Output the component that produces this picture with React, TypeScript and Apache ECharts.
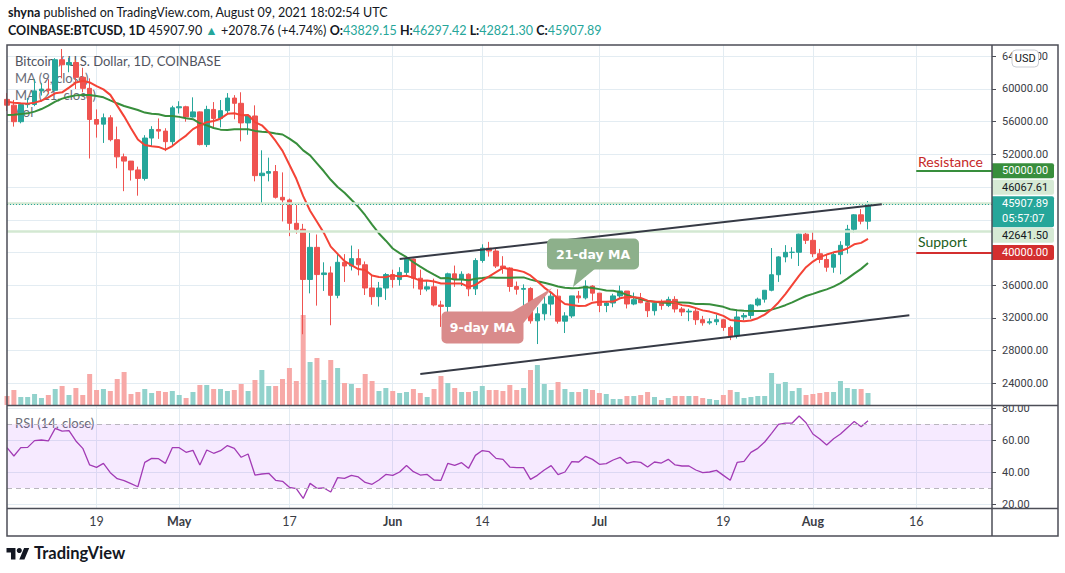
import React, { useEffect, useRef } from "react";
import * as echarts from "echarts";

const UP = "#26a69a";
const DOWN = "#ef5350";
const UP_VOL = "#92d2cc";
const DOWN_VOL = "#f7a9a7";
const GRID = "#e3ecf2";
const FRAME = "#4c4e57";
const FONT = "Lato, 'Open Sans', sans-serif";
const AXIS_FONT = "Roboto, 'Open Sans', sans-serif";

const START = { y: 2021, m: 3, d: 6 };
const DAY_COUNT = 144; // 2021-04-06 .. 2021-08-27

const tickLabels: Record<string, string> = {
  "2021-04-19": "19",
  "2021-05-01": "May",
  "2021-05-17": "17",
  "2021-06-01": "Jun",
  "2021-06-14": "14",
  "2021-07-01": "Jul",
  "2021-07-19": "19",
  "2021-08-01": "Aug",
  "2021-08-16": "16",
};
const monthLabels = ["May", "Jun", "Jul", "Aug"];
const priceTicks = [24000, 28000, 32000, 36000, 40000, 44000, 48000, 52000, 56000, 60000, 64000];
// 40000, 44000 and 48000 sit under the coloured price tags, 64000 under the USD badge
const priceLabelTicks = [24000, 28000, 32000, 36000, 52000, 56000, 60000];
const topPriceLabel = { value: 64000, head: "64", tail: "00" };
const rsiTicks = [20, 40, 60, 80];

// [open, close, low, high]
const candles: number[][] = [
  [58730, 58020, 57300, 59500], // Apr 6
  [58020, 56000, 55400, 58660],
  [56000, 58090, 55800, 58150],
  [58090, 58100, 57700, 58900],
  [58100, 59770, 57900, 61200], // Apr 10
  [59770, 59990, 59200, 60700],
  [59990, 59840, 59400, 61200],
  [59840, 63580, 59840, 63770],
  [63580, 62960, 61300, 64895],
  [62960, 63240, 62050, 63800], // Apr 15
  [63240, 61430, 60000, 63570],
  [61430, 60080, 59600, 62600],
  [60080, 56270, 51500, 61300],
  [56270, 55700, 54050, 57500],
  [55700, 56480, 53400, 57000], // Apr 20
  [56480, 53800, 53600, 56800],
  [53800, 51700, 50300, 55400],
  [51700, 51180, 47500, 52100],
  [51180, 50100, 48800, 51200],
  [50100, 49060, 46950, 50500], // Apr 25
  [49060, 54000, 48800, 54350],
  [54000, 55050, 53000, 55450],
  [55050, 54850, 53900, 56400],
  [54850, 53560, 52400, 55200],
  [53560, 57700, 53100, 57950], // Apr 30
  [57700, 57830, 57000, 58500], // May 1
  [57830, 56580, 56000, 57950],
  [56580, 57200, 56500, 58980],
  [57200, 53200, 53100, 57250],
  [53200, 57500, 52900, 57950], // May 5
  [57500, 56400, 55300, 58400],
  [56400, 57350, 55300, 58650],
  [57350, 58890, 56900, 59500],
  [58890, 58250, 56300, 59250],
  [58250, 55850, 53600, 59600], // May 10
  [55850, 56700, 54400, 56900],
  [56700, 49400, 48700, 58000],
  [49400, 49700, 46000, 52500],
  [49700, 49900, 48700, 51600],
  [49900, 46750, 46600, 50700], // May 15
  [46750, 46430, 43800, 49800],
  [46430, 43570, 42000, 46600],
  [43570, 42840, 42300, 45800],
  [42840, 36700, 30000, 43500],
  [36700, 40630, 35000, 42400], // May 20
  [40630, 37300, 33500, 42200],
  [37300, 37500, 35300, 38800],
  [37500, 34760, 31100, 38300],
  [34760, 38800, 34400, 39900],
  [38800, 38350, 36400, 39800], // May 25
  [38350, 39250, 37800, 40850],
  [39250, 38500, 37200, 40400],
  [38500, 35660, 34800, 38900],
  [35660, 34600, 33600, 37300],
  [34600, 35650, 33400, 36400], // May 30
  [35650, 37300, 34200, 37500],
  [37300, 36690, 35700, 37900], // Jun 1
  [36690, 37570, 35950, 38200],
  [37570, 39190, 37200, 39480],
  [39190, 36850, 35600, 39250],
  [36850, 35520, 34800, 37900], // Jun 5
  [35520, 35800, 35250, 36500],
  [35800, 33580, 33400, 36800],
  [33580, 33400, 30900, 34100],
  [33400, 37390, 32400, 37530],
  [37390, 36690, 35800, 38400], // Jun 10
  [36690, 37340, 35900, 37700],
  [37340, 35550, 34650, 37450],
  [35550, 39020, 34800, 39300],
  [39020, 40530, 38750, 41000],
  [40530, 40180, 39500, 41300], // Jun 15
  [40180, 38340, 38100, 40500],
  [38340, 38100, 37400, 39550],
  [38100, 35840, 35200, 38200],
  [35840, 35500, 34850, 36450],
  [35500, 35600, 33400, 36100], // Jun 20
  [35600, 31640, 31300, 35750],
  [31640, 32500, 28800, 33300],
  [32500, 33690, 31700, 34800],
  [33690, 34660, 32300, 35200],
  [34660, 31600, 31300, 35500], // Jun 25
  [31600, 32240, 30150, 32700],
  [32240, 34690, 32000, 34700],
  [34690, 34450, 33850, 35300],
  [34450, 35890, 34250, 36600],
  [35890, 35030, 34100, 36000], // Jun 30
  [35030, 33520, 32700, 35050], // Jul 1
  [33520, 33820, 32700, 33940],
  [33820, 34690, 33300, 34950],
  [34690, 35290, 34380, 35950],
  [35290, 33700, 33150, 35290], // Jul 5
  [33700, 34230, 33550, 35100],
  [34230, 33860, 33790, 35050],
  [33860, 32880, 32100, 33920],
  [32880, 33800, 32300, 34080],
  [33800, 33510, 33000, 34250], // Jul 10
  [33510, 34260, 33320, 34600],
  [34260, 33090, 32660, 34650],
  [33090, 32730, 32230, 33330],
  [32730, 32820, 31600, 33120],
  [32820, 31780, 31150, 33180], // Jul 15
  [31780, 31400, 31050, 32250],
  [31400, 31530, 31180, 31950],
  [31530, 31780, 31120, 32400],
  [31780, 30830, 30420, 31890],
  [30830, 29800, 29280, 31050], // Jul 20
  [29800, 32110, 29480, 32850],
  [32110, 32300, 31720, 32600],
  [32300, 33580, 31900, 33650],
  [33580, 34290, 33410, 34480],
  [34290, 35380, 33870, 35400], // Jul 25
  [35380, 37280, 35250, 40550],
  [37280, 39460, 36400, 39550],
  [39460, 40020, 38800, 40900],
  [40020, 40030, 39240, 40650],
  [40030, 42240, 38350, 42300], // Jul 30
  [42240, 41490, 41040, 42420],
  [41490, 39850, 39430, 42600], // Aug 1
  [39850, 39150, 38700, 40440],
  [39150, 38200, 37650, 39780],
  [38200, 39740, 37520, 39950],
  [39740, 40880, 37330, 41380], // Aug 5
  [40880, 42840, 39870, 43380],
  [42840, 44610, 42450, 44700],
  [44610, 43830, 43450, 45300],
  [43829.15, 45907.89, 42821.3, 46297.42], // Aug 9
];

const volumes = [
  9000, 15000, 8000, 8000, 11000, 7000, 10000, 16000, 19000, 10000,
  17000, 10000, 31000, 15000, 16000, 14000, 26000, 33000, 11000, 13000,
  16000, 12000, 14000, 13000, 14000, 10000, 7000, 13000, 20000, 20000,
  16000, 16000, 14000, 15000, 21000, 14000, 25000, 35000, 19000, 19000,
  26000, 37000, 24000, 90000, 43000, 47000, 25000, 45000, 37000, 22000,
  21000, 17000, 31000, 24000, 14000, 17000, 14000, 12000, 13000, 16000,
  12000, 8000, 16000, 29000, 22000, 17000, 13000, 13000, 14000, 19000,
  15000, 15000, 14000, 20000, 15000, 17000, 35000, 40000, 21000, 15000,
  23000, 16000, 13000, 13000, 16000, 15000, 12000, 11000, 6000, 6000,
  9000, 9000, 10000, 13000, 8000, 5000, 7000, 9000, 9000, 9000,
  9000, 7000, 6000, 5000, 10000, 15000, 13000, 7000, 8000, 9000,
  9000, 32000, 21000, 23000, 14000, 17000, 10000, 11000, 12000, 13000,
  13000, 24000, 17000, 16000, 16000, 12000,
];

const rsi = [
  55.2, 50, 55.2, 55.4, 59.6, 60, 59.4, 67.3, 65.6, 65.8,
  59.4, 54.8, 44.4, 42.9, 45.4, 39.6, 35.8, 34.6, 32.7, 30.8,
  46, 48.5, 48.3, 45.4, 55.2, 55.2, 52.3, 53.5, 44.4, 53.75,
  51.7, 53.3, 56.5, 54.8, 49.2, 51.25, 38.1, 38.75, 39.2, 34.8,
  34.2, 30.4, 29.6, 23.5, 32.9, 29.8, 30, 27.5, 36.5, 36,
  37.9, 36.9, 33.5, 32.3, 35, 38.5, 37.9, 40, 44, 40.2,
  38.1, 38.5, 35, 34.8, 45.4, 44.2, 45.8, 42.3, 50.4, 53.4,
  52.7, 48.5, 47.9, 43.1, 42.7, 42.7, 35.4, 37.9, 41.25, 44,
  38.3, 40, 46.5, 46.25, 49.8, 47.9, 44.8, 45.2, 47.5, 49.2,
  45.4, 46.5, 46, 43.1, 46.25, 45.6, 47.9, 44.4, 43.75, 43.75,
  41.25, 39.6, 40, 41, 37.9, 34.8, 46, 46.7, 52.3, 54.8,
  58.75, 64.2, 69.8, 70.6, 70.6, 75, 70.8, 63.75, 60.6, 56.9,
  60.8, 63.75, 67.7, 71.5, 68.3, 72.1,
];

const ma9Head = [58450, 58330, 58250, 58210, 58330, 58570, 58980, 59470];
const ma21Head = [
  56820, 56860, 56940, 57020, 57230, 57550, 57960, 58450, 58820, 59060,
  59220, 59270, 59270, 59150, 58980, 58600, 58250, 57920, 57680, 57430,
];

const channelUpper = { from: 57, to: 127, p1: 39209, p2: 45911 };
const channelLower = { from: 60, to: 131, p1: 25145, p2: 32324 };
const hLines = { upperGreen: 46067.61, lowerGreen: 42641.5, last: 45907.89 };
const resistance = { level: 50000, from: 132, to: 143 };
const support = { level: 40000, from: 132, to: 143 };

function buildDates(): string[] {
  const out: string[] = [];
  for (let i = 0; i < DAY_COUNT; i++) {
    const d = new Date(Date.UTC(START.y, START.m, START.d + i));
    out.push(d.toISOString().slice(0, 10));
  }
  return out;
}

function movingAvg(closes: number[], n: number, head: number[]): number[] {
  return closes.map((_, i) => {
    if (i < n - 1) return head[i];
    let s = 0;
    for (let k = i - n + 1; k <= i; k++) s += closes[k];
    return Math.round(s / n);
  });
}

const TV_LOGO = "M14 22H7V11H0V4h14v18zM28 22h-8l7.5-18h8L28 22z";

export default function App() {
  const ref = useRef<HTMLDivElement>(null);

  useEffect(() => {
    document.body.style.margin = "0";
    try {
      echarts.graphic.registerShape("tvlogo", echarts.graphic.extendPath(TV_LOGO, {}) as any);
    } catch (e) {
      /* already registered */
    }
    const chart = echarts.init(ref.current!, null, { renderer: "svg" });
    const dates = buildDates();
    const closes = candles.map((c) => c[1]);
    const ma9 = movingAvg(closes, 9, ma9Head);
    const ma21 = movingAvg(closes, 21, ma21Head);
    const isTick = (_i: number, v: string) => tickLabels[v] !== undefined;

    const xBase = {
      type: "category" as const,
      data: dates,
      boundaryGap: false,
      axisLine: { show: false },
      axisTick: { show: false },
      splitLine: { show: true, interval: isTick, lineStyle: { color: GRID, width: 1 } },
    };

    const option: any = {
      animation: false,
      backgroundColor: "#ffffff",
      textStyle: { fontFamily: FONT },
      grid: [
        { left: 7, right: 73, top: 45, height: 360 },
        { left: 7, right: 73, top: 406, height: 102 },
      ],
      xAxis: [
        { ...xBase, gridIndex: 0, axisLabel: { show: false } },
        {
          ...xBase,
          gridIndex: 1,
          axisLabel: {
            show: true,
            interval: isTick,
            margin: 7,
            color: "#3a3d45",
            fontSize: 12.5,
            fontFamily: FONT,
            formatter: (v: string) => {
              const t = tickLabels[v] || "";
              return monthLabels.indexOf(t) >= 0 ? `{m|${t}}` : t;
            },
            rich: { m: { fontWeight: "bold", fontSize: 12.5, fontFamily: FONT, color: "#3a3d45" } },
          },
        },
      ],
      yAxis: [
        {
          type: "value",
          gridIndex: 0,
          position: "right",
          min: 21345,
          max: 65382,
          axisLine: { show: false },
          axisTick: { show: true, length: 4, lineStyle: { color: FRAME }, customValues: priceTicks },
          axisLabel: {
            customValues: priceLabelTicks,
            formatter: (v: number) => v.toFixed(2),
            color: "#3a3d45",
            fontSize: 11,
            fontFamily: AXIS_FONT,
            margin: 10,
          },
          splitLine: { show: true, lineStyle: { color: GRID } },
        },
        { type: "value", gridIndex: 0, min: 0, max: 360000, show: false, splitLine: { show: false } },
        {
          type: "value",
          gridIndex: 1,
          position: "right",
          min: 17.5,
          max: 81.25,
          axisLine: { show: false },
          axisTick: { show: true, length: 4, lineStyle: { color: FRAME }, customValues: rsiTicks },
          axisLabel: {
            customValues: rsiTicks,
            formatter: (v: number) => v.toFixed(2),
            color: "#3a3d45",
            fontSize: 11,
            fontFamily: AXIS_FONT,
            margin: 10,
          },
          splitLine: { show: true, lineStyle: { color: GRID } },
        },
      ],
      series: [
        {
          type: "bar",
          name: "Vol",
          xAxisIndex: 0,
          yAxisIndex: 1,
          barWidth: 5,
          z: 1,
          silent: true,
          data: volumes.map((v, i) => ({
            value: v,
            itemStyle: { color: candles[i][1] >= candles[i][0] ? UP_VOL : DOWN_VOL },
          })),
        },
        {
          type: "candlestick",
          name: "BTCUSD",
          xAxisIndex: 0,
          yAxisIndex: 0,
          barWidth: 5,
          z: 3,
          silent: true,
          data: candles,
          itemStyle: { color: UP, color0: DOWN, borderColor: UP, borderColor0: DOWN, borderWidth: 1 },
          markLine: {
            silent: true,
            symbol: ["none", "none"],
            label: { show: false },
            animation: false,
            data: [
              { yAxis: hLines.upperGreen, lineStyle: { color: "#d3e8d2", width: 2.5, type: "solid" } },
              { yAxis: hLines.lowerGreen, lineStyle: { color: "#d3e8d2", width: 2.5, type: "solid" } },
              { yAxis: hLines.last, lineStyle: { color: UP, width: 1, type: [1, 2] } },
              [
                { coord: [dates[channelUpper.from], channelUpper.p1], lineStyle: { color: "#363a45", width: 2, type: "solid" } },
                { coord: [dates[channelUpper.to], channelUpper.p2] },
              ],
              [
                { coord: [dates[channelLower.from], channelLower.p1], lineStyle: { color: "#363a45", width: 2, type: "solid" } },
                { coord: [dates[channelLower.to], channelLower.p2] },
              ],
              [
                { coord: [dates[resistance.from], resistance.level], lineStyle: { color: "#388e3c", width: 2, type: "solid" } },
                { coord: [dates[resistance.to], resistance.level] },
              ],
              [
                { coord: [dates[support.from], support.level], lineStyle: { color: "#d32f2f", width: 2, type: "solid" } },
                { coord: [dates[support.to], support.level] },
              ],
            ],
          },
        },
        {
          type: "line",
          name: "MA 21",
          xAxisIndex: 0,
          yAxisIndex: 0,
          data: ma21,
          showSymbol: false,
          silent: true,
          z: 4,
          lineStyle: { color: "#388e3c", width: 2 },
        },
        {
          type: "line",
          name: "MA 9",
          xAxisIndex: 0,
          yAxisIndex: 0,
          data: ma9,
          showSymbol: false,
          silent: true,
          z: 4,
          lineStyle: { color: "#f44336", width: 2 },
        },
        {
          type: "line",
          name: "RSI",
          xAxisIndex: 1,
          yAxisIndex: 2,
          data: rsi,
          showSymbol: false,
          silent: true,
          z: 4,
          lineStyle: { color: "#a23bb5", width: 1.3 },
          markArea: {
            silent: true,
            itemStyle: { color: "rgba(153,21,255,0.09)" },
            data: [[{ yAxis: 30 }, { yAxis: 70 }]],
          },
          markLine: {
            silent: true,
            symbol: ["none", "none"],
            label: { show: false },
            lineStyle: { color: "#b9b6be", width: 1, type: [5, 4] },
            data: [{ yAxis: 70 }, { yAxis: 30 }],
          },
        },
      ],
    };

    chart.setOption(option);

    const py = (v: number) => chart.convertToPixel({ yAxisIndex: 0 }, v) as number;
    const yRes = py(resistance.level);
    const ySup = py(support.level);
    const yLast = py(hLines.last);
    const yTop = py(topPriceLabel.value);

    const txt = (x: number, y: number, text: string, font: string, fill: string, z = 1, extra: any = {}) => ({
      type: "text",
      x,
      y,
      z,
      silent: true,
      style: { text, font, fill, textVerticalAlign: "middle", ...extra },
    });
    const tag = (cy: number, text: string, bg: string, fg: string) => [
      { type: "rect", z: 55, silent: true, shape: { x: 992, y: cy - 7.5, width: 62, height: 15, r: [0, 2, 2, 0] }, style: { fill: bg } },
      txt(1002, cy, text, `11px ${AXIS_FONT}`, fg, 56),
    ];
    const HEAD = `12.5px ${FONT}`;
    const HEAD_B = `bold 12.5px ${FONT}`;

    const graphic: any[] = [
      // header
      txt(8, 12, "{b|shyna} published on TradingView.com, August 09, 2021 18:02:54 UTC", HEAD, "#131722", 1, {
        rich: { b: { font: HEAD_B, fill: "#131722" } },
      }),
      txt(
        8,
        30,
        "{b|COINBASE:BTCUSD, 1D} 45907.90 {g|▲} +2078.76 (+4.74%) {b|O:}{g|43829.15} {b|H:}{g|46297.42} {b|L:}{g|42821.30} {b|C:}{g|45907.89}",
        HEAD,
        "#131722",
        1,
        {
          rich: {
            b: { font: HEAD_B, fill: "#131722" },
            g: { font: HEAD, fill: UP },
          },
        }
      ),
      // pane legends (under the series)
      txt(15, 61, "Bitcoin / U.S. Dollar, 1D, COINBASE", `13px ${FONT}`, "#50535e", 0),
      txt(15, 78, "MA (9, close)", `13px ${FONT}`, "#6a6d78", 0),
      txt(15, 95, "MA (21, close)", `13px ${FONT}`, "#6a6d78", 0),
      txt(15, 112, "Vol", `13px ${FONT}`, "#6a6d78", 0),
      txt(15, 423, "RSI (14, close)", `13px ${FONT}`, "#6a6d78", 0),
      // resistance / support captions
      txt(918, yRes - 9, "Resistance", `14px ${FONT}`, "#c62828", 20),
      txt(918, ySup - 11, "Support", `14px ${FONT}`, "#1b5e20", 20),
      // callouts
      { type: "rect", z: 30, silent: true, shape: { x: 547, y: 238.5, width: 92, height: 31, r: 5 }, style: { fill: "#8db08b" } },
      { type: "polygon", z: 30, silent: true, shape: { points: [[577, 268], [596, 268], [573, 287]] }, style: { fill: "#8db08b" } },
      txt(593, 254, "21-day MA", `bold 12.5px 'DejaVu Sans', sans-serif`, "#ffffff", 31, { textAlign: "center" }),
      { type: "rect", z: 30, silent: true, shape: { x: 441.5, y: 311.5, width: 82, height: 32, r: 5 }, style: { fill: "#d98b8b" } },
      { type: "polygon", z: 30, silent: true, shape: { points: [[510, 313], [523.5, 323], [552, 288]] }, style: { fill: "#d98b8b" } },
      txt(482.5, 327.5, "9-day MA", `bold 12.5px 'DejaVu Sans', sans-serif`, "#ffffff", 31, { textAlign: "center" }),
      // masks for clipped axis labels
      { type: "rect", z: 40, silent: true, shape: { x: 993, y: 395.5, width: 64, height: 10 }, style: { fill: "#ffffff" } },
      { type: "rect", z: 40, silent: true, shape: { x: 993, y: 509, width: 64, height: 10 }, style: { fill: "#ffffff" } },
      // top price label, partly hidden by the USD badge
      txt(1002, yTop, topPriceLabel.head, `11px ${AXIS_FONT}`, "#3a3d45", 45),
      txt(1048, yTop, topPriceLabel.tail, `11px ${AXIS_FONT}`, "#3a3d45", 45, { textAlign: "right" }),
      // price tags
      ...tag(yRes, "50000.00", "#388e3c", "#ffffff"),
      ...tag(yLast - 17, "46067.61", "#d6ead5", "#131722"),
      { type: "rect", z: 55, silent: true, shape: { x: 992, y: yLast - 8, width: 62, height: 31, r: [0, 2, 2, 0] }, style: { fill: UP } },
      txt(1002, yLast - 8, "45907.89\n05:57:07", `11px ${AXIS_FONT}`, "#ffffff", 56, {
        textVerticalAlign: "top",
        lineHeight: 15,
      }),
      ...tag(yLast + 31, "42641.50", "#d6ead5", "#131722"),
      ...tag(ySup, "40000.00", "#d32f2f", "#ffffff"),
      // USD badge
      { type: "rect", z: 57, silent: true, shape: { x: 1012, y: 50, width: 26.5, height: 17, r: 4 }, style: { fill: "#ffffff", stroke: "#c9ccd3", lineWidth: 1 } },
      txt(1025.2, 58.5, "USD", `11px ${AXIS_FONT}`, "#131722", 58, { textAlign: "center" }),
      // frame
      { type: "rect", z: 60, silent: true, shape: { x: 7, y: 45, width: 1051, height: 491 }, style: { fill: "none", stroke: FRAME, lineWidth: 1.5 } },
      { type: "line", z: 60, silent: true, shape: { x1: 992, y1: 45, x2: 992, y2: 536 }, style: { stroke: FRAME, lineWidth: 1.5 } },
      { type: "line", z: 60, silent: true, shape: { x1: 7, y1: 405.5, x2: 1058, y2: 405.5 }, style: { stroke: FRAME, lineWidth: 1.5 } },
      { type: "line", z: 60, silent: true, shape: { x1: 7, y1: 508.5, x2: 1058, y2: 508.5 }, style: { stroke: FRAME, lineWidth: 1.5 } },
      // TradingView logo
      { type: "tvlogo", z: 60, silent: true, x: 6.5, y: 545.4, scaleX: 0.64, scaleY: 0.64, style: { fill: "#131722" } },
      { type: "circle", z: 60, silent: true, shape: { cx: 6.5 + 20 * 0.64, cy: 545.4 + 8 * 0.64, r: 4 * 0.64 }, style: { fill: "#131722" } },
      txt(34, 553, "TradingView", `bold 16.5px ${FONT}`, "#131722", 60),
    ];

    chart.setOption({ graphic });

    return () => chart.dispose();
  }, []);

  return <div ref={ref} style={{ width: 1065, height: 573, background: "#ffffff" }} />;
}
